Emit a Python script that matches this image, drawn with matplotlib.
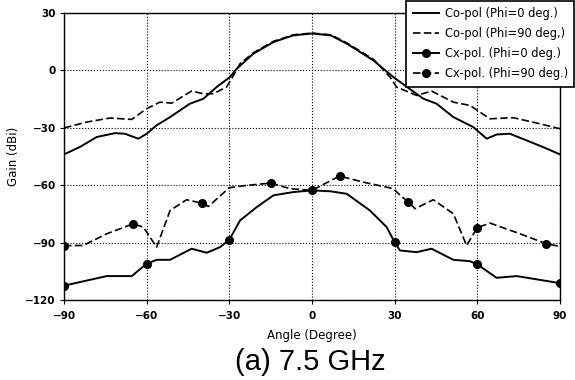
import numpy as np
import matplotlib.pyplot as plt

# Co-pol, Phi = 0
co0_ang = [-90, -84.2, -78.1, -71.5, -67.9, -63, -60, -56.4, -51.5, -44.3, -39.4, -34.6, -29.8, -27.3, -21.3, -14, -6.8, 0,
           6.8, 12.6, 22.3, 29.5, 40.4, 45.2, 51.3, 58.5, 63.4, 67, 71.8, 77.9, 83.9, 90]
co0_gain = [-43.9, -40, -34.8, -32.8, -33.1, -35.7, -33.1, -28.7, -24.4, -17.4, -14.8, -8.7, -3.5, 0.9, 8.7, 14.8, 18.3, 19.3,
            18.3, 14, 5.2, -3.5, -14.8, -17.4, -24.4, -29.6, -35.7, -33.5, -33.1, -36.6, -40.1, -43.9]

# Co-pol, Phi = 90
co90_ang = [-90, -81.8, -73.3, -65.4, -60, -55.2, -50.9, -43.7, -39.4, -35.8, -31, -28.5, -26.1, -21.3, -14, -6.8, 0,
            6.8, 12.6, 22.3, 28.3, 30.7, 38, 43.4, 51.3, 57.3, 64.6, 73, 81.5, 90]
co90_gain = [-30.1, -27, -24.9, -25.6, -20, -16.6, -17.1, -10.8, -12.2, -12.2, -8.7, -2.6, 3.5, 9.2, 15.2, 18.6, 19.5,
             18.6, 14.4, 5.8, -3.5, -8.7, -13.1, -10.8, -16.6, -18.3, -25.3, -24.7, -27.5, -30.5]

# Cx-pol, Phi = 0
cx0_ang = [-90, -74.5, -65.4, -60, -56.4, -51.5, -43.7, -38.2, -33.4, -30, -26.1, -20.1, -14, -6.8, 0,
           6.8, 12.6, 21, 27.1, 30, 31.9, 38, 43.4, 51.3, 57.3, 60, 67, 74.3, 90]
cx0_gain = [-112.5, -107.5, -107.5, -101, -99, -99, -93.2, -95.3, -92.4, -88.5, -78.4, -71.5, -65.3, -63.6, -62.7,
            -63.2, -64.5, -73.2, -81.9, -89.9, -94.1, -95, -93.2, -99, -99.7, -101.4, -108.4, -107.5, -111.2]
cx0_mark = [-90, -60, -30, 0, 30, 60, 90]

# Cx-pol, Phi = 90
cx90_ang = [-90, -83, -74.5, -65, -61.2, -56.4, -51.5, -45.5, -40, -37.6, -30, -23.7, -15, -8, 0,
            10, 18.6, 29.5, 32, 35, 37.4, 44, 51.3, 56.1, 60, 64.6, 75.5, 85, 90]
cx90_gain = [-91.6, -91.5, -85.4, -80.2, -81.9, -92.4, -73.2, -67.6, -69.4, -71.1, -61.3, -60.1, -58.9, -61.8, -62.7,
             -55.2, -58.4, -61.8, -65.3, -68.8, -72.3, -67.6, -74.9, -91.5, -82.2, -79.8, -85.4, -90.6, -92]
cx90_mark = [-90, -65, -40, -15, 10, 35, 60, 85]

labels = ["Co-pol (Phi=0 deg.)", "Co-pol (Phi=90 deg,)", "Cx-pol. (Phi=0 deg.)", "Cx-pol. (Phi=90 deg.)"]

fig = plt.figure(figsize=(5.75, 3.8), dpi=100)
ax = fig.add_axes([64/575, 1 - 300/380, 496/575, 287/380])

ax.plot(co0_ang, co0_gain, c="k", lw=1.4, label=labels[0])
ax.plot(co90_ang, co90_gain, c="k", lw=1.2, ls=(0, (4.5, 2)), label=labels[1])
ax.plot(cx0_ang, cx0_gain, c="k", lw=1.4, marker="o", ms=5.5,
        markevery=[cx0_ang.index(a) for a in cx0_mark], label=labels[2])
ax.plot(cx90_ang, cx90_gain, c="k", lw=1.2, ls=(0, (4.5, 2)), marker="o", ms=5.5,
        markevery=[cx90_ang.index(a) for a in cx90_mark], label=labels[3])

ax.set_xlim(-90, 90)
ax.set_ylim(-120, 30)
ax.set_xticks(np.arange(-90, 91, 30))
ax.set_yticks(np.arange(-120, 31, 30))
ax.grid(True, c="k", ls=":", lw=0.8)
for lab in ax.get_xticklabels() + ax.get_yticklabels():
    lab.set_fontsize(7.5)
    lab.set_fontweight("bold")
ax.tick_params(length=3, width=0.8, pad=3)
ax.tick_params(axis="x", pad=5)
for s in ax.spines.values():
    s.set_linewidth(1)
ax.set_xlabel("Angle (Degree)", fontsize=8.5)
ax.xaxis.set_label_coords(0.5, -0.1)
ax.set_ylabel("Gain (dBi)", fontsize=8.5)
ax.yaxis.set_label_coords(-0.088, 0.5)

leg = ax.legend(loc="upper right", bbox_to_anchor=(1.0, 1.0), bbox_transform=fig.transFigure,
                fontsize=8.3, frameon=True, fancybox=False, handlelength=2.3, handletextpad=0.5,
                borderpad=0.55, labelspacing=0.62, borderaxespad=0.05)
leg.get_frame().set_edgecolor("k")
leg.get_frame().set_linewidth(1.2)
leg.get_frame().set_alpha(1)

fig.text(310/575, 1 - 362/380, "(a) 7.5 GHz", ha="center", va="center", fontsize=21,
         family=["Liberation Sans", "DejaVu Sans"])

fig.savefig("out.png", dpi=100)
